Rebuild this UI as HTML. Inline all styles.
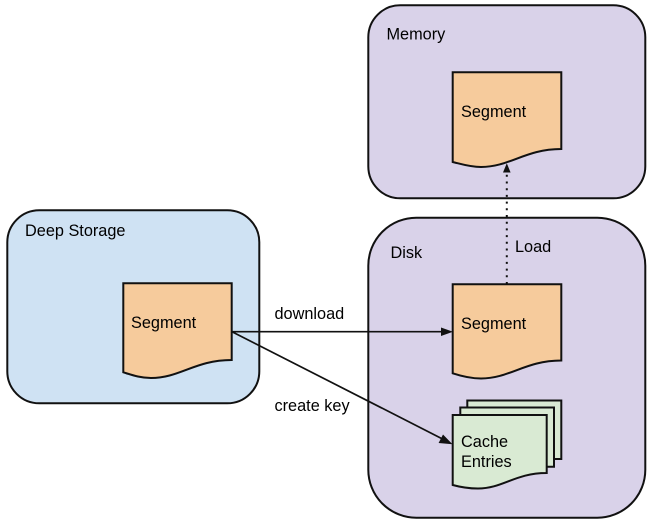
<!DOCTYPE html>
<html>
<head>
<meta charset="utf-8">
<style>
html,body{margin:0;padding:0;background:#fff;width:652px;height:524px;overflow:hidden}
svg{display:block}
text{font-family:"Liberation Sans",Arial,sans-serif;font-size:16.3px;fill:#000}
</style>
</head>
<body>
<svg width="652" height="524" viewBox="0 0 652 524" xmlns="http://www.w3.org/2000/svg">
<g stroke="#111" stroke-width="2">
<rect x="7.3" y="210.3" width="252" height="193" rx="32" ry="32" fill="#cfe2f3"/>
<rect x="368.3" y="5.3" width="277" height="193" rx="32" ry="32" fill="#d9d2e9"/>
<rect x="368.3" y="217.7" width="277" height="300" rx="48" ry="48" fill="#d9d2e9"/>
<path d="M123.3 283.3H231.7V360C195 360 180 378 151 378C140 378 132 375 123.3 372.3Z" fill="#f6cb9c"/>
<path d="M452.7 72.3H561.3V149C525 149 510 167 481 167C470 167 461 164 452.7 162Z" fill="#f6cb9c"/>
<path d="M452.7 284.3H561.3V360.5C525 360.5 510 378.5 481 378.5C470 378.5 461 376 452.7 373.3Z" fill="#f6cb9c"/>
<path d="M467.3 400.5H561.3V459H467.3Z" fill="#d9ead3"/>
<path d="M460.3 407.5H554V466.7H460.3Z" fill="#d9ead3"/>
<path d="M452.7 415H546.7V473C515 473 503 488.5 478 488.5C468 488.5 460 487 452.7 485Z" fill="#d9ead3"/>
</g>
<line x1="232" y1="331.7" x2="444" y2="331.7" stroke="#111" stroke-width="1.7"/>
<path d="M453 331.7L441 327.5V336Z" fill="#111"/>
<line x1="232" y1="331.7" x2="444" y2="439.7" stroke="#111" stroke-width="1.7"/>
<path d="M452.5 444.3L443 434.5L438.6 443Z" fill="#111"/>
<line x1="506.8" y1="284" x2="506.8" y2="174" stroke="#111" stroke-width="2" stroke-dasharray="2 4.7"/>
<path d="M506.8 163.3L503 172.5H510.6Z" fill="#111"/>
<text x="25" y="236">Deep Storage</text>
<text x="131" y="328">Segment</text>
<text x="386.5" y="39.5">Memory</text>
<text x="461" y="117">Segment</text>
<text x="390.5" y="258">Disk</text>
<text x="515" y="252">Load</text>
<text x="461" y="329">Segment</text>
<text x="274.5" y="319">download</text>
<text x="274.5" y="411">create key</text>
<text x="461" y="447">Cache</text>
<text x="461" y="467">Entries</text>
</svg>
</body>
</html>
